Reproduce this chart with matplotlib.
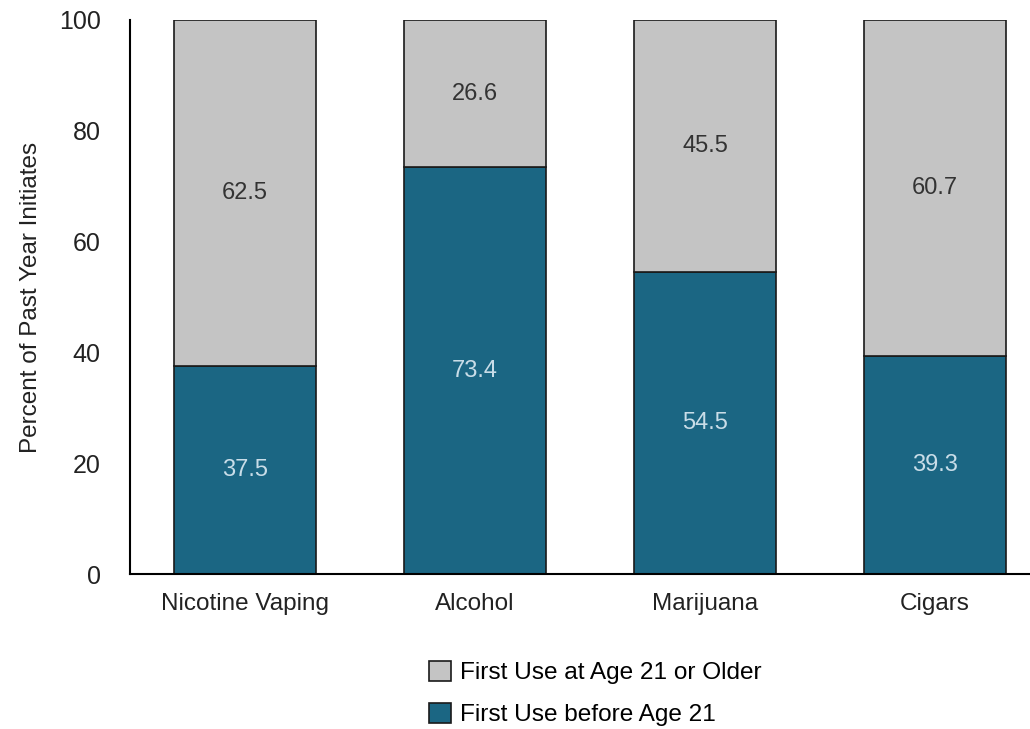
import matplotlib
matplotlib.use("Agg")
import matplotlib.pyplot as plt
import numpy as np

categories = ["Nicotine Vaping", "Alcohol", "Marijuana", "Cigars"]
before_21 = [37.5, 73.4, 54.5, 39.3]
age_21_plus = [62.5, 26.6, 45.5, 60.7]
yticks = [0, 20, 40, 60, 80, 100]

teal = "#1b6683"
gray = "#c4c4c4"

plt.rcParams["font.family"] = ["Liberation Sans", "DejaVu Sans"]

fig = plt.figure(figsize=(10.3, 7.29), dpi=100)
ax = fig.add_axes([0.1262, 0.2126, 0.8738, 0.76])

x = np.arange(len(categories))
w = 0.62
b1 = ax.bar(x, before_21, w, color=teal, edgecolor="#1a1a1a", linewidth=1.2,
            label="First Use before Age 21")
b2 = ax.bar(x, age_21_plus, w, bottom=before_21, color=gray, edgecolor="#1a1a1a",
            linewidth=1.2, label="First Use at Age 21 or Older")

for i in range(len(categories)):
    ax.text(x[i], before_21[i] / 2, f"{before_21[i]:.1f}", ha="center", va="center",
            fontsize=17, color="#c9dde8")
    ax.text(x[i], before_21[i] + age_21_plus[i] / 2, f"{age_21_plus[i]:.1f}",
            ha="center", va="center", fontsize=17, color="#333333")

ax.set_xlim(-0.5, 3.413)
ax.set_ylim(0, 100)
ax.set_yticks(yticks)
ax.set_xticks(x)
ax.set_xticklabels(categories)
ax.tick_params(axis="x", length=0, labelsize=17.5, colors="#222222", pad=14)
ax.tick_params(axis="y", length=0, labelsize=18, colors="#222222", pad=21)
for s in ["top", "right"]:
    ax.spines[s].set_visible(False)
ax.spines["left"].set_linewidth(1.5)
ax.spines["bottom"].set_linewidth(1.5)
ax.set_ylabel("Percent of Past Year Initiates", fontsize=17.5, color="#222222", labelpad=12)

leg = fig.legend(handles=[b2, b1], loc="upper center", bbox_to_anchor=(0.578, 0.107),
                 frameon=False, fontsize=17.6, handlelength=0.9, handleheight=0.9,
                 handletextpad=0.35, labelspacing=0.75, borderaxespad=0)

fig.savefig("out.png", dpi=100)
